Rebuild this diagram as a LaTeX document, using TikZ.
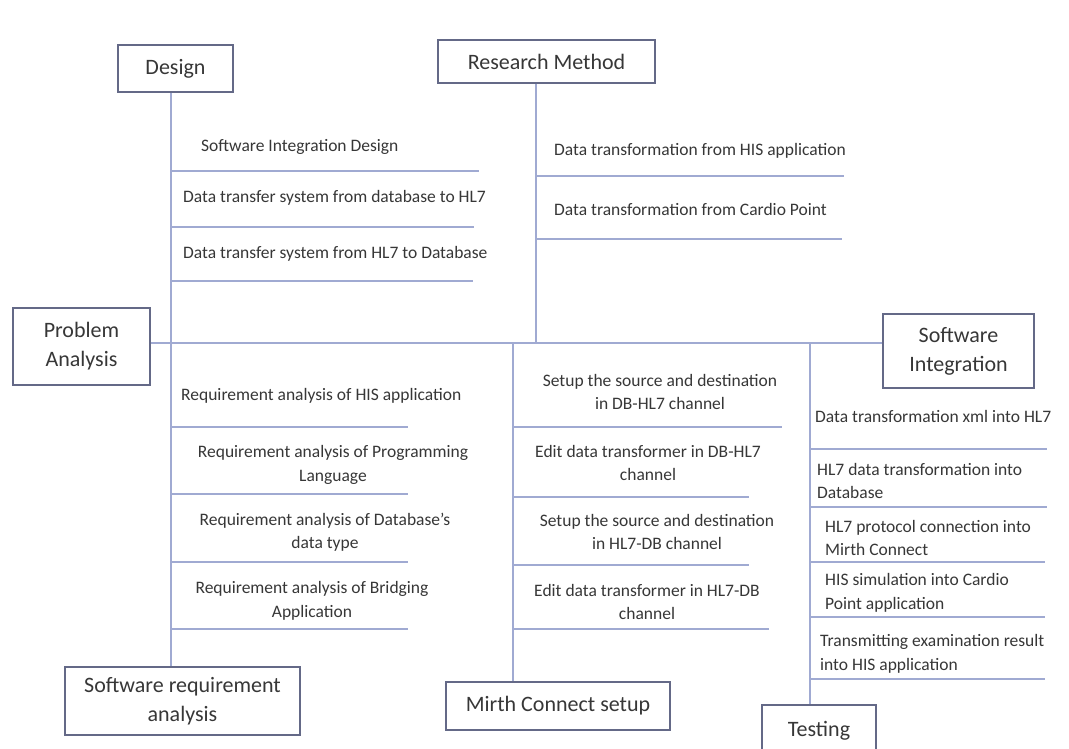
\documentclass[tikz,border=0pt]{standalone}
\usepackage{fontspec}
\setmainfont{Carlito}
\definecolor{lineblue}{RGB}{160,170,210}
\definecolor{boxedge}{RGB}{100,105,135}
\definecolor{txt}{RGB}{55,55,55}
\begin{document}
\begin{tikzpicture}[x=1pt,y=-1pt,
  box/.style={draw=boxedge,line width=1.6pt,fill=white,text=txt,
    font=\fontsize{22}{29}\selectfont,align=center,inner sep=0pt},
  item/.style={text=txt,font=\fontsize{17.5}{23.5}\selectfont,inner sep=0pt},
  conn/.style={draw=lineblue,line width=1.1pt}]
\useasboundingbox (0,0) rectangle (1069,749);
\clip (0,0) rectangle (1069,749);
\fill[white] (0,0) rectangle (1069,749);

% junction coordinates on the main line
\coordinate (dA) at (171,343);
\coordinate (rA) at (536,343);
\coordinate (mA) at (513,343);
\coordinate (tA) at (810,343);

% boxes
\node[box,minimum width=115pt,minimum height=47pt] (Design) at (175.5,68.5) {Design};
\node[box,minimum width=217pt,minimum height=43pt] (Research) at (546.5,61.5) {Research Method};
\node[box,minimum width=137pt,minimum height=77pt] (Problem) at (81.5,346.5) {Problem\\Analysis};
\node[box,minimum width=151pt,minimum height=74pt] (SoftInt) at (958.5,351) {Software\\Integration};
\node[box,minimum width=235pt,minimum height=68pt] (SRA) at (182.5,701) {Software requirement\\analysis};
\node[box,minimum width=224pt,minimum height=48pt] (Mirth) at (558,706) {Mirth Connect setup};
\node[box,minimum width=114pt,minimum height=52pt] (Testing) at (819,731) {Testing};

% spines
\draw[conn] (Problem.east |- dA) -- (SoftInt.west |- dA);
\draw[conn] (Design.south -| dA) -- (SRA.north -| dA);
\draw[conn] (Research.south -| rA) -- (rA);
\draw[conn] (mA) -- (Mirth.north -| mA);
\draw[conn] (tA) -- (Testing.north -| tA);

% branch end coordinates
\coordinate (d1) at (479,171);
\coordinate (d2) at (474,227);
\coordinate (d3) at (473,281);
\coordinate (r1) at (844,176);
\coordinate (r2) at (842,239);
\coordinate (s1) at (408,427);
\coordinate (s2) at (408,494);
\coordinate (s3) at (408,562);
\coordinate (s4) at (408,629);
\coordinate (m1) at (782,427);
\coordinate (m2) at (749,497);
\coordinate (m3) at (749,565);
\coordinate (m4) at (769,629);
\coordinate (t1) at (1047,449);
\coordinate (t2) at (1047,507);
\coordinate (t3) at (1045,562);
\coordinate (t4) at (1045,617);
\coordinate (t5) at (1045,679);

\foreach \c in {d1,d2,d3,s1,s2,s3,s4} \draw[conn] (dA |- \c) -- (\c);
\foreach \c in {r1,r2} \draw[conn] (rA |- \c) -- (\c);
\foreach \c in {m1,m2,m3,m4} \draw[conn] (mA |- \c) -- (\c);
\foreach \c in {t1,t2,t3,t4,t5} \draw[conn] (tA |- \c) -- (\c);

% Design items
\node[item,anchor=mid west] (di1) at (201,149) {Software Integration Design};
\node[item,anchor=mid west] (di2) at (183,200) {Data transfer system from database to HL7};
\node[item,anchor=mid west] (di3) at (183,256) {Data transfer system from HL7 to Database};

% Research items
\node[item,anchor=mid west] (ri1) at (554,153) {Data transformation from HIS application};
\node[item,anchor=mid west] (ri2) at (554,213) {Data transformation from Cardio Point};

% Software requirement items
\node[item,anchor=mid west] (si1) at (181,398) {Requirement analysis of HIS application};
\node[item,align=center] (si2) at (333,465) {Requirement analysis of Programming\\Language};
\node[item,align=center] (si3) at (325,532) {Requirement analysis of Database's\\data type};
\node[item,align=center] (si4) at (312,601) {Requirement analysis of Bridging\\Application};

% Mirth items
\node[item,align=center] (mi1) at (660,392) {Setup the source and destination\\in DB-HL7 channel};
\node[item,align=center] (mi2) at (648,463) {Edit data transformer in DB-HL7\\channel};
\node[item,align=center] (mi3) at (657,532) {Setup the source and destination\\in HL7-DB channel};
\node[item,align=center] (mi4) at (647,602) {Edit data transformer in HL7-DB\\channel};

% Testing items
\node[item,anchor=mid west] (ti1) at (815,420) {Data transformation xml into HL7};
\node[item,align=left,anchor=west] (ti2) at (817,481) {HL7 data transformation into\\Database};
\node[item,align=left,anchor=west] (ti3) at (825,538) {HL7 protocol connection into\\Mirth Connect};
\node[item,align=left,anchor=west] (ti4) at (825,593) {HIS simulation into Cardio\\Point application};
\node[item,align=left,anchor=west] (ti5) at (820,654) {Transmitting examination result\\into HIS application};
\end{tikzpicture}
\end{document}
